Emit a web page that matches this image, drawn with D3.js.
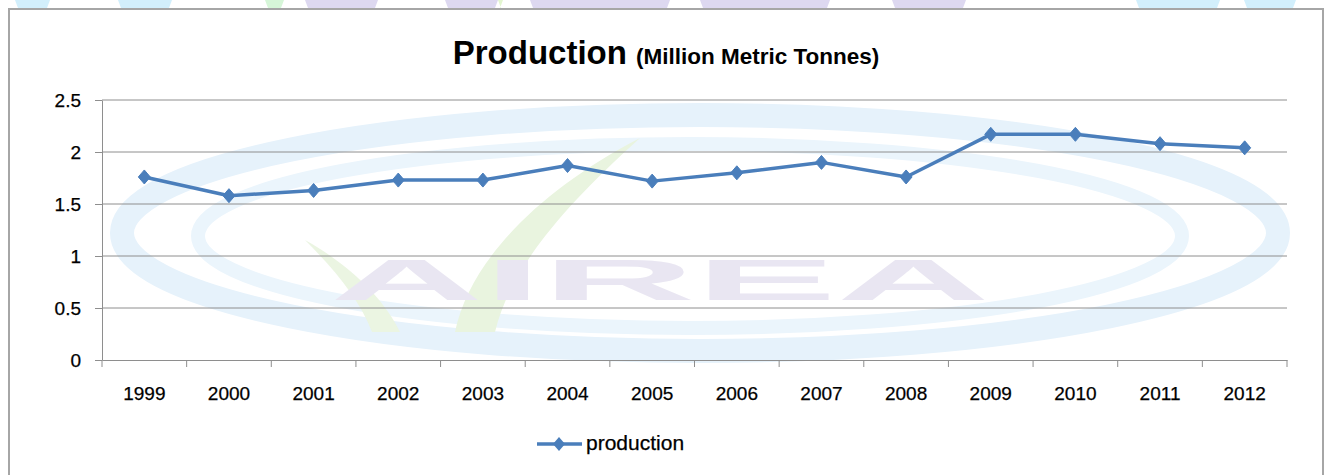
<!DOCTYPE html>
<html>
<head>
<meta charset="utf-8">
<script src="https://cdn.jsdelivr.net/npm/d3@7"></script>
<style>
  html, body { margin: 0; padding: 0; background: #ffffff; }
  svg { display: block; }
  text { font-family: "Liberation Sans", Arial, sans-serif; }
</style>
</head>
<body>
<svg id="chart" width="1326" height="475"></svg>
<script>
// ---- data ----
const years = ["1999","2000","2001","2002","2003","2004","2005","2006","2007","2008","2009","2010","2011","2012"];
const production = [1.76, 1.58, 1.63, 1.73, 1.73, 1.87, 1.72, 1.80, 1.90, 1.76, 2.17, 2.17, 2.08, 2.04];
const yTicks = [0, 0.5, 1, 1.5, 2, 2.5];
const yTickLabels = ["0", "0.5", "1", "1.5", "2", "2.5"];
const titleMain = "Production";
const titleSub = "(Million Metric Tonnes)";
const seriesName = "production";

// ---- layout ----
const W = 1326, H = 475;
const plot = { left: 102, right: 1287, top: 100, bottom: 360 };
const lineColor = "#4a7ebb";
const gridColor = "#8e8e8e";

const svg = d3.select("#chart");

// background
svg.append("rect").attr("width", W).attr("height", H).attr("fill", "#ffffff");

// top strip watermark fragments (outside the frame)
const strip = [
  [15, 50, "#d2effc"], [118, 172, "#d2effc"], [265, 284, "#d6f6d8"],
  [305, 378, "#ddd8f0"], [445, 498, "#ddd8f0"], [498, 503, "#e3f6d0"],
  [530, 670, "#ddd8f0"], [700, 830, "#ddd8f0"], [892, 966, "#ddd8f0"],
  [1136, 1220, "#d2effc"], [1244, 1296, "#d2effc"]
];
svg.append("g").selectAll("path").data(strip).join("path")
  .attr("d", d => `M${d[0]},0 L${d[1]},0 L${d[1]-3},8 L${d[0]+3},8 Z`)
  .attr("fill", d => d[2]);

// frame
svg.append("rect")
  .attr("x", 9).attr("y", 9).attr("width", 1314).attr("height", 470)
  .attr("fill", "#ffffff").attr("stroke", "#a6a6a6").attr("stroke-width", 2);

// ---- faint watermark (logo) ----
const wm = svg.append("g").attr("class", "watermark");
wm.append("ellipse").attr("cx", 700).attr("cy", 233).attr("rx", 578).attr("ry", 118)
  .attr("fill", "none").attr("stroke", "#e6f2fb").attr("stroke-width", 24);
wm.append("ellipse").attr("cx", 690).attr("cy", 236).attr("rx", 492).attr("ry", 92)
  .attr("fill", "none").attr("stroke", "#ebf5fc").attr("stroke-width", 14);
wm.append("path")
  .attr("d", "M455,332 C470,260 540,190 640,138 C560,210 510,270 495,332 Z")
  .attr("fill", "#e9f4df");
wm.append("path")
  .attr("d", "M372,332 C360,300 335,270 305,240 C350,265 385,300 400,332 Z")
  .attr("fill", "#ebf5e2");
wm.append("text")
  .attr("x", 330).attr("y", 300)
  .attr("textLength", 660).attr("lengthAdjust", "spacingAndGlyphs")
  .attr("font-size", 58).attr("font-weight", "bold")
  .attr("fill", "#e9e6f2")
  .text("AIREA");

// ---- scales ----
const x = d3.scaleBand().domain(years).range([plot.left, plot.right]).padding(0);
const y = d3.scaleLinear().domain([0, 2.5]).range([plot.bottom, plot.top]);

// gridlines
svg.append("g").selectAll("line").data(yTicks.filter(t => t > 0)).join("line")
  .attr("x1", plot.left).attr("x2", plot.right)
  .attr("y1", d => y(d)).attr("y2", d => y(d))
  .attr("stroke", gridColor).attr("stroke-width", 1);

// y axis
const yAxis = svg.append("g")
  .attr("transform", `translate(${plot.left},0)`)
  .call(d3.axisLeft(y).tickValues(yTicks)
    .tickFormat((d, i) => yTickLabels[i])
    .tickSize(7).tickSizeOuter(0).tickPadding(14));
yAxis.select(".domain").attr("stroke", gridColor);
yAxis.selectAll(".tick line").attr("stroke", gridColor);
yAxis.selectAll("text").attr("font-size", 19).attr("fill", "#000")
  .attr("stroke", "#000").attr("stroke-width", 0.25)
  .attr("font-family", '"Liberation Sans", Arial, sans-serif');

// x axis (labels)
const xAxis = svg.append("g")
  .attr("transform", `translate(0,${plot.bottom})`)
  .call(d3.axisBottom(x).tickSize(0).tickSizeOuter(0).tickPadding(27));
xAxis.select(".domain").attr("stroke", gridColor);
xAxis.selectAll("text").attr("font-size", 19).attr("fill", "#000")
  .attr("stroke", "#000").attr("stroke-width", 0.25)
  .attr("font-family", '"Liberation Sans", Arial, sans-serif');

// x boundary ticks
const bounds = years.map(d => x(d)).concat([x.range()[1]]);
svg.append("g").selectAll("line").data(bounds).join("line")
  .attr("x1", d => d).attr("x2", d => d)
  .attr("y1", plot.bottom).attr("y2", plot.bottom + 7)
  .attr("stroke", gridColor).attr("stroke-width", 1);

// ---- series ----
const pts = years.map((yr, i) => ({ yr, v: production[i] }));
const line = d3.line().x(d => x(d.yr) + x.bandwidth() / 2).y(d => y(d.v));
svg.append("path").datum(pts)
  .attr("d", line)
  .attr("fill", "none").attr("stroke", lineColor)
  .attr("stroke-width", 3.5).attr("stroke-linejoin", "round");

const diamond = (cx, cy, w, h) => `M${cx},${cy - h/2} L${cx + w/2},${cy} L${cx},${cy + h/2} L${cx - w/2},${cy} Z`;
svg.append("g").selectAll("path").data(pts).join("path")
  .attr("d", d => diamond(x(d.yr) + x.bandwidth() / 2, y(d.v), 12, 14))
  .attr("fill", lineColor).attr("stroke", lineColor).attr("stroke-width", 1);

// ---- title ----
const title = svg.append("text")
  .attr("x", 666).attr("y", 64).attr("text-anchor", "middle")
  .attr("fill", "#000").attr("font-weight", "bold");
title.append("tspan").attr("font-size", 33).text(titleMain);
title.append("tspan").attr("font-size", 22.5).attr("dx", 9).text(titleSub);

// ---- legend ----
const lg = svg.append("g");
lg.append("line").attr("x1", 537).attr("x2", 582).attr("y1", 444).attr("y2", 444)
  .attr("stroke", lineColor).attr("stroke-width", 3.5);
lg.append("path").attr("d", diamond(559, 444, 12, 14)).attr("fill", lineColor);
lg.append("text").attr("x", 586).attr("y", 450)
  .attr("font-size", 21).attr("fill", "#000")
  .attr("stroke", "#000").attr("stroke-width", 0.25)
  .text(seriesName);
</script>
</body>
</html>
